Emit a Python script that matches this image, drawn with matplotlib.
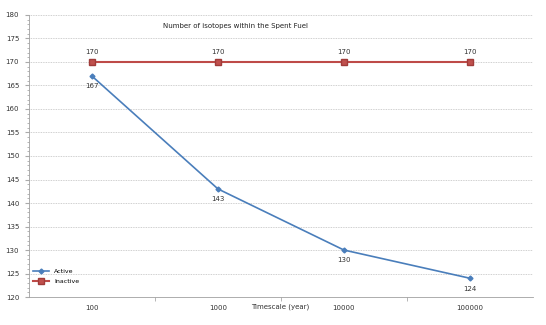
import numpy as np
import matplotlib.pyplot as plt
from matplotlib.ticker import MultipleLocator, FixedLocator

timescale = ["100", "1000", "10000", "100000"]
active = [167, 143, 130, 124]
inactive = [170, 170, 170, 170]

fig = plt.figure(figsize=(5.46, 3.25), dpi=100)
ax = fig.add_axes([0.053, 0.086, 0.923, 0.868])

x = np.arange(len(timescale))
ax.plot(x, active, color="#4a7ebb", lw=1.2, marker="D", ms=2.5, label="Active", zorder=3)
ax.plot(x, inactive, color="#be4b48", lw=1.5, marker="s", ms=4, mfc="#c0504d",
        mec="#a03c3a", label="Inactive", zorder=3)

for xi, v in zip(x, active):
    ax.annotate(str(v), (xi, v), xytext=(0, -7.5), textcoords="offset points",
                ha="center", va="center", fontsize=5, color="#333333")
for xi, v in zip(x, inactive):
    ax.annotate(str(v), (xi, v), xytext=(0, 7), textcoords="offset points",
                ha="center", va="center", fontsize=5, color="#333333")

ax.set_xlim(-0.5, len(timescale) - 0.5)
ax.set_ylim(120, 180)
ax.yaxis.set_major_locator(MultipleLocator(5))
ax.yaxis.set_minor_locator(MultipleLocator(1))
ax.set_xticks(x)
ax.set_xticklabels(timescale)
ax.xaxis.set_minor_locator(FixedLocator([0.5, 1.5, 2.5]))
ax.tick_params(axis="x", which="major", length=0, labelsize=5, pad=6, colors="#333333")
ax.tick_params(axis="x", which="minor", length=3, color="#aaaaaa")
ax.tick_params(axis="y", which="major", length=3, labelsize=5, color="#aaaaaa",
               labelcolor="#333333", pad=4)
ax.tick_params(axis="y", which="minor", length=1.5, color="#aaaaaa")

ax.grid(axis="y", which="major", color="#c0c0c0", ls=(0, (1, 1)), lw=0.6)
for side in ["top", "right"]:
    ax.spines[side].set_visible(False)
ax.spines["left"].set_color("#a0a0a0")
ax.spines["bottom"].set_color("#a0a0a0")
ax.spines["left"].set_linewidth(0.6)
ax.spines["bottom"].set_linewidth(0.6)

fig.text(0.432, 0.92, "Number of isotopes within the Spent Fuel",
         fontsize=5, ha="center", va="center", color="#222222")
fig.text(0.513, 0.055, "Timescale (year)",
         fontsize=5, ha="center", va="center", color="#333333")

ax.legend(loc="lower left", bbox_to_anchor=(0.0, 0.03), frameon=False, fontsize=4.5,
          handlelength=2.5, labelspacing=0.8, borderaxespad=0.3)

fig.savefig("out.png", dpi=100)
